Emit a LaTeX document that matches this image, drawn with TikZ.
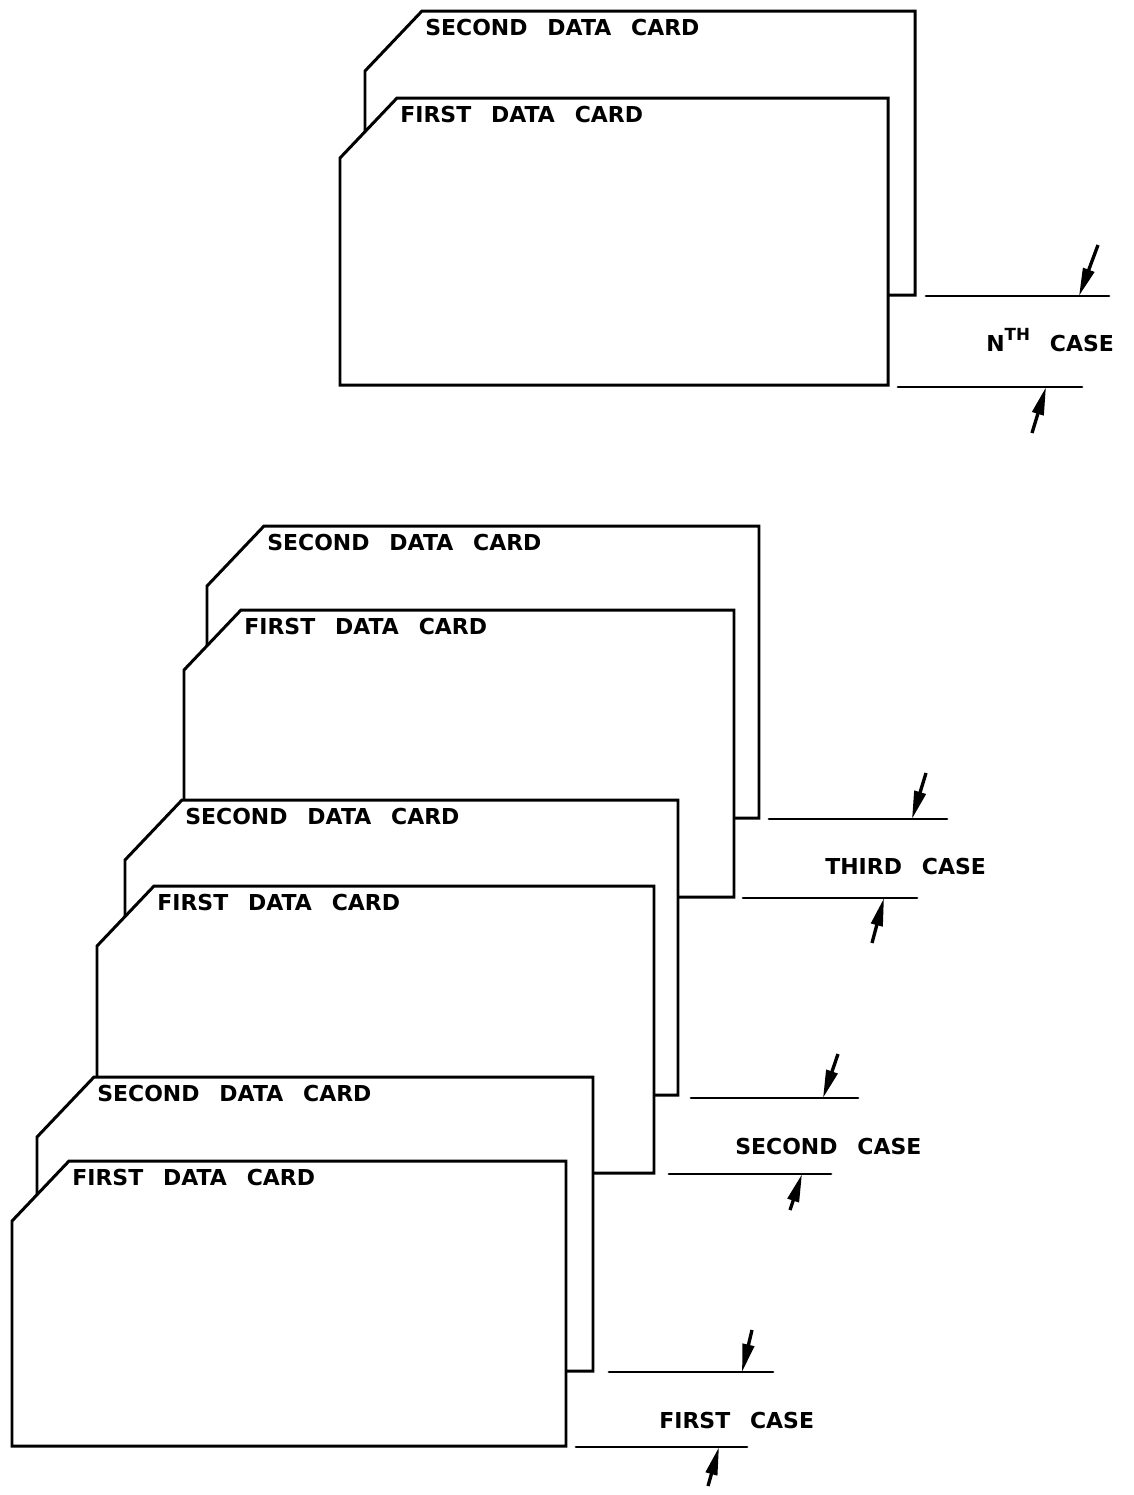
\documentclass[tikz,border=0pt]{standalone}
\usepackage{fontspec}
\newfontfamily\cardfont[WordSpace=2.6]{DejaVu Sans}
\usepackage{tikz}
\usetikzlibrary{arrows.meta}
\tikzset{
  card/.style={draw=black,fill=white,line width=1.7pt},
  dimline/.style={line width=1.6pt,line cap=round},
  leader/.style={-{Triangle[length=5.6mm,width=2.3mm]},line width=1.9pt},
  cardtext/.style={anchor=north west,inner sep=0pt,
    font=\fontsize{12.5}{15}\selectfont\cardfont\bfseries},
  casetext/.style={anchor=base west,inner sep=0pt,
    font=\fontsize{12.5}{15}\selectfont\cardfont\bfseries}
}

\begin{document}
\begin{tikzpicture}[x=0.2mm,y=-0.2mm]
\useasboundingbox (0,0) rectangle (1134,1495);

\foreach \l/\t/\r/\b/\lab [count=\i] in {
  365/11/915/295/SECOND, 340/98/888/385/FIRST,
  207/526/759/818/SECOND, 184/610/734/897/FIRST,
  125/800/678/1095/SECOND, 97/886/654/1173/FIRST,
  37/1077/593/1371/SECOND, 12/1161/566/1446/FIRST}{
  \draw[card] (\l,\t+60) -- (\l+57,\t) -- (\r,\t) -- (\r,\b) -- (\l,\b) -- cycle;
  \node[cardtext] (card\i) at (\l+60,\t+8) {\lab{} DATA CARD};
}

\coordinate (nUa) at (926,296);
\coordinate (nUb) at (1109,296);
\coordinate (nUt) at (1098,245);
\coordinate (nUh) at (1079,296);
\coordinate (nLa) at (898,387);
\coordinate (nLb) at (1082,387);
\coordinate (nLt) at (1032,433);
\coordinate (nLh) at (1046,387);
\draw[dimline] (nUa)--(nUb) (nLa)--(nLb);
\draw[leader] (nUt)--(nUh);
\draw[leader] (nLt)--(nLh);
\node[casetext] (caseN) at (986,351)
  {N\raisebox{6.2pt}{\fontsize{9.5}{10}\selectfont TH} CASE};

\coordinate (tUa) at (769,819);
\coordinate (tUb) at (947,819);
\coordinate (tUt) at (926,773);
\coordinate (tUh) at (912,819);
\coordinate (tLa) at (743,898);
\coordinate (tLb) at (917,898);
\coordinate (tLt) at (872,943);
\coordinate (tLh) at (884,898);
\draw[dimline] (tUa)--(tUb) (tLa)--(tLb);
\draw[leader] (tUt)--(tUh);
\draw[leader] (tLt)--(tLh);
\node[casetext] (caseThree) at (825,874) {THIRD CASE};

\coordinate (sUa) at (691,1098);
\coordinate (sUb) at (858,1098);
\coordinate (sUt) at (838,1054);
\coordinate (sUh) at (823,1098);
\coordinate (sLa) at (669,1174);
\coordinate (sLb) at (831,1174);
\coordinate (sLt) at (790,1210);
\coordinate (sLh) at (802,1174);
\draw[dimline] (sUa)--(sUb) (sLa)--(sLb);
\draw[leader] (sUt)--(sUh);
\draw[leader] (sLt)--(sLh);
\node[casetext] (caseTwo) at (735,1154) {SECOND CASE};

\coordinate (fUa) at (609,1372);
\coordinate (fUb) at (773,1372);
\coordinate (fUt) at (752,1330);
\coordinate (fUh) at (742,1372);
\coordinate (fLa) at (576,1447);
\coordinate (fLb) at (747,1447);
\coordinate (fLt) at (708,1486);
\coordinate (fLh) at (719,1447);
\draw[dimline] (fUa)--(fUb) (fLa)--(fLb);
\draw[leader] (fUt)--(fUh);
\draw[leader] (fLt)--(fLh);
\node[casetext] (caseOne) at (659,1428) {FIRST CASE};

\end{tikzpicture}
\end{document}
